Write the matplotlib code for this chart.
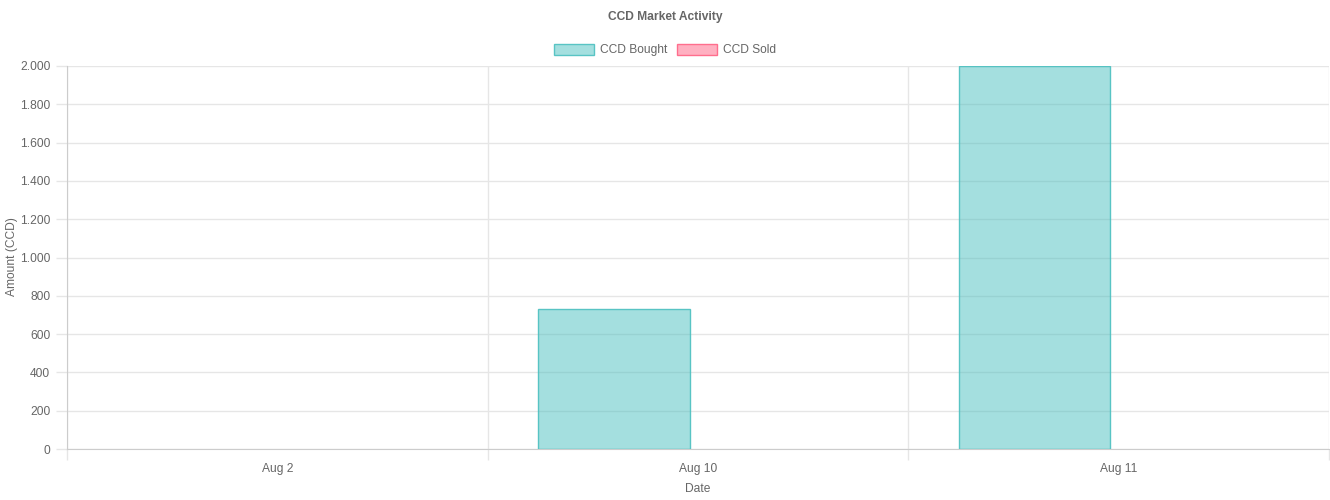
import matplotlib.pyplot as plt
import matplotlib.patches as mpatches
from matplotlib.ticker import FuncFormatter, FixedLocator
import numpy as np

plt.rcParams['font.family'] = ['Liberation Sans', 'DejaVu Sans']

# Data
dates = ['Aug 2', 'Aug 10', 'Aug 11']
ccd_bought = [0, 730, 2000]
ccd_sold = [0, 0, 0]

text_color = '#666666'
grid_color = '#e6e6e6'
axis_color = '#cccccc'
bought_fill = (75 / 255, 192 / 255, 192 / 255, 0.5)
bought_edge = (75 / 255, 192 / 255, 192 / 255, 0.9)
sold_fill = (255 / 255, 99 / 255, 132 / 255, 0.5)
sold_edge = (255 / 255, 99 / 255, 132 / 255, 0.9)
fs = 8.64  # 12px at dpi 100

fig = plt.figure(figsize=(13.3, 5), dpi=100)
ax = fig.add_axes([67 / 1330, 51 / 500, 1262 / 1330, 383 / 500])

x = np.arange(len(dates))
w = 0.36
# zero-height bars are not drawn with an outline
ax.bar(x - 0.2, ccd_bought, width=w, color=bought_fill, edgecolor=bought_edge,
       linewidth=[1 if v > 0 else 0 for v in ccd_bought], zorder=3)
ax.bar(x + 0.2, ccd_sold, width=w, color=sold_fill, edgecolor=sold_edge,
       linewidth=[1 if v > 0 else 0 for v in ccd_sold], zorder=3)

ax.set_xlim(-0.5, len(dates) - 0.5)
ax.set_ylim(0, 2000)

# x axis: labels at centres, grid/ticks at category boundaries
ax.set_xticks(x)
ax.set_xticklabels(dates)
ax.tick_params(axis='x', which='major', length=0, pad=10, labelsize=fs, labelcolor=text_color)
ax.xaxis.set_minor_locator(FixedLocator(np.arange(-0.5, len(dates), 1.0)))
ax.tick_params(axis='x', which='minor', length=8, color=grid_color, width=1)
ax.grid(axis='x', which='minor', color=grid_color, linewidth=1, zorder=0)

# y axis
ax.set_yticks(np.arange(0, 2001, 200))
ax.yaxis.set_major_formatter(FuncFormatter(lambda v, p: f'{int(v):,}'.replace(',', '.')))
ax.tick_params(axis='y', length=8, color=grid_color, width=1, pad=4, labelsize=fs, labelcolor=text_color)
ax.grid(axis='y', color=grid_color, linewidth=1, zorder=0)

for side in ['top', 'right']:
    ax.spines[side].set_visible(False)
ax.spines['left'].set_color(axis_color)
ax.spines['bottom'].set_color(axis_color)

ax.set_xlabel('Date', fontsize=fs, color=text_color, labelpad=6)
fig.text(12 / 1330, 1 - 257 / 500, 'Amount (CCD)', rotation=90, ha='center', va='center',
         fontsize=fs, color=text_color)

fig.text(0.5, 1 - 17 / 500, 'CCD Market Activity', ha='center', va='center',
         fontsize=fs, fontweight='bold', color=text_color)

handles = [
    mpatches.Patch(facecolor=bought_fill, edgecolor=bought_edge, linewidth=1, label='CCD Bought'),
    mpatches.Patch(facecolor=sold_fill, edgecolor=sold_edge, linewidth=1, label='CCD Sold'),
]
leg = fig.legend(handles=handles, loc='center', bbox_to_anchor=(0.5, 1 - 50 / 500), ncol=2,
                 frameon=False, fontsize=fs, handlelength=3.3, handleheight=1.0,
                 handletextpad=0.5, columnspacing=0.8)
for t in leg.get_texts():
    t.set_color(text_color)

plt.savefig('out.png', dpi=100)
